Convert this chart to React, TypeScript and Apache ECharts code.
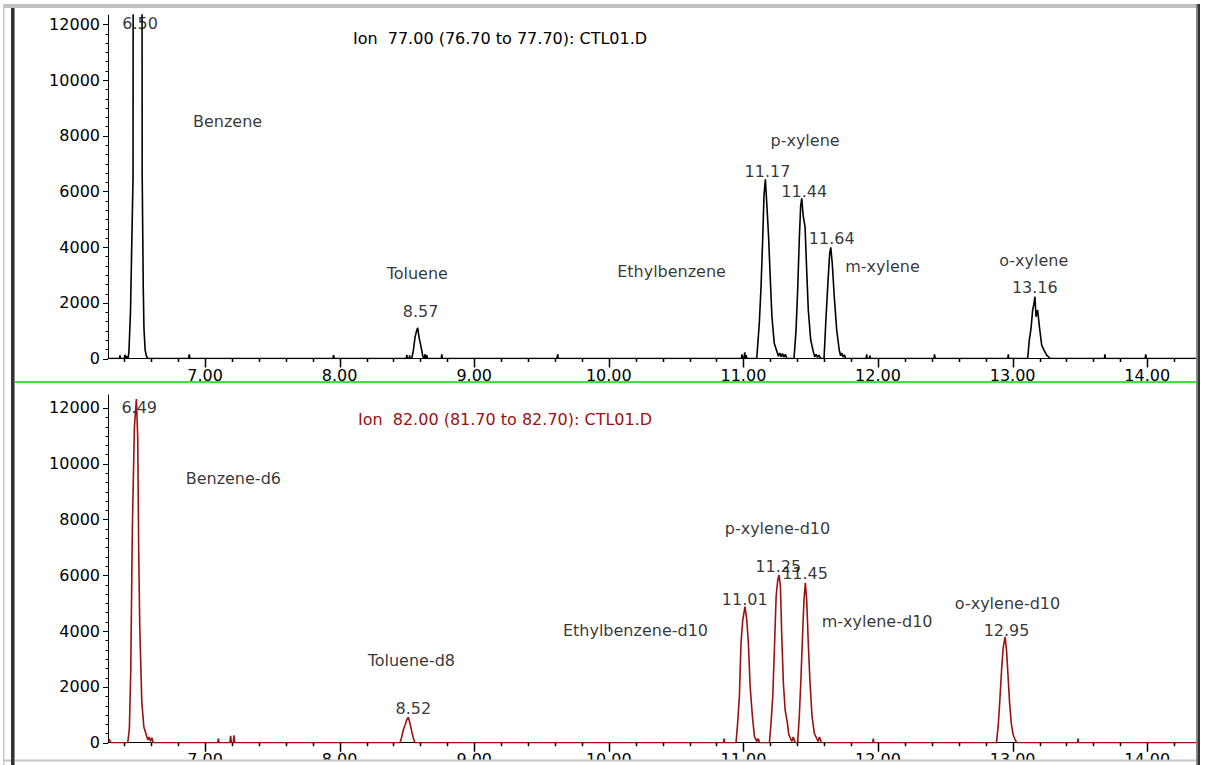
import React, { useEffect, useRef } from 'react';
import * as echarts from 'echarts';

const X_MIN = 6.279;
const X_MAX = 14.37;
const TOP_Y_MAX = 12334;
const BOTTOM_Y_MAX = 12462;
const X_MAJOR = [7, 8, 9, 10, 11, 12, 13, 14];
const X_MINOR = [6.4, 6.6, 6.8, 7.2, 7.4, 7.6, 7.8, 8.2, 8.4, 8.6, 8.8, 9.2, 9.4, 9.6, 9.8, 10.2, 10.4, 10.6, 10.8,
  11.2, 11.4, 11.6, 11.8, 12.2, 12.4, 12.6, 12.8, 13.2, 13.4, 13.6, 13.8, 14.2];
const Y_MAJOR = [0, 2000, 4000, 6000, 8000, 10000, 12000];
const Y_MINOR_STEP = 2000 / 6;

const TOP_TITLE = 'Ion  77.00 (76.70 to 77.70): CTL01.D';
const BOTTOM_TITLE = 'Ion  82.00 (81.70 to 82.70): CTL01.D';

const TOP_TRACE: [number, number][] = [
  [6.279, 0], [6.365, 0], [6.368, 110], [6.372, 0],
  [6.400, 0], [6.405, 130], [6.410, 0], [6.416, 90], [6.420, 0],
  [6.428, 0], [6.434, 200], [6.446, 1650], [6.465, 6500], [6.470, 40000], [6.528, 40000], [6.533, 6600],
  [6.541, 2550], [6.546, 1100], [6.555, 300], [6.565, 80], [6.575, 0],
  [6.878, 0], [6.883, 150], [6.888, 0],
  [7.950, 0], [7.955, 120], [7.960, 0],
  [8.495, 0], [8.499, 130], [8.503, 0], [8.516, 0], [8.520, 110], [8.524, 0],
  [8.536, 0], [8.548, 300], [8.560, 760], [8.573, 1020], [8.580, 1100], [8.590, 760], [8.605, 420], [8.617, 100],
  [8.625, 0], [8.635, 150], [8.640, 0], [8.647, 120], [8.652, 0],
  [8.755, 0], [8.759, 150], [8.763, 0],
  [9.615, 0], [9.620, 150], [9.625, 0],
  [10.985, 0], [10.990, 150], [10.995, 0], [11.005, 0], [11.010, 220], [11.015, 0], [11.020, 120], [11.025, 0],
  [11.099, 0], [11.118, 1264], [11.131, 2580], [11.143, 4255], [11.153, 5870], [11.163, 6434], [11.175, 5450],
  [11.187, 4373], [11.200, 2818], [11.212, 1500], [11.229, 545], [11.249, 250], [11.260, 80], [11.270, 200],
  [11.280, 60], [11.290, 180], [11.300, 50], [11.312, 150], [11.322, 0],
  [11.376, 0], [11.391, 1020], [11.403, 2460], [11.415, 4255], [11.425, 5450], [11.433, 5752], [11.445, 5090],
  [11.458, 4730], [11.470, 3180], [11.482, 1740], [11.500, 664], [11.520, 230], [11.530, 60], [11.540, 150],
  [11.550, 40], [11.560, 120], [11.575, 0],
  [11.599, 0], [11.614, 1500], [11.629, 2818], [11.641, 3777], [11.649, 3993], [11.660, 3418], [11.675, 2219],
  [11.693, 1023], [11.712, 305], [11.722, 100], [11.730, 200], [11.740, 50], [11.750, 130], [11.760, 0],
  [11.912, 0], [11.916, 150], [11.920, 0], [11.936, 0], [11.940, 100], [11.944, 0],
  [12.416, 0], [12.420, 150], [12.424, 0],
  [12.964, 0], [12.968, 150], [12.972, 0],
  [13.112, 0], [13.124, 664], [13.137, 1085], [13.149, 1742], [13.158, 1950], [13.166, 2219], [13.174, 1500],
  [13.186, 1742], [13.199, 1142], [13.216, 485], [13.233, 300], [13.253, 120], [13.280, 0],
  [13.682, 0], [13.686, 150], [13.690, 0],
  [13.985, 0], [13.989, 150], [13.993, 0],
  [14.370, 0],
];

const BOTTOM_TRACE: [number, number][] = [
  [6.279, 150], [6.290, 100], [6.300, 0],
  [6.426, 0], [6.438, 520], [6.448, 2550], [6.460, 7700], [6.475, 11300], [6.490, 12320], [6.500, 10900],
  [6.507, 6900], [6.515, 4150], [6.530, 1470], [6.545, 570], [6.560, 340], [6.575, 100], [6.585, 200],
  [6.595, 50], [6.605, 180], [6.615, 0],
  [7.095, 0], [7.099, 150], [7.103, 0],
  [7.185, 0], [7.190, 250], [7.195, 0], [7.210, 0], [7.215, 260], [7.220, 0],
  [8.449, 0], [8.461, 200], [8.473, 455], [8.486, 635], [8.498, 813], [8.510, 910], [8.523, 695], [8.536, 395],
  [8.548, 158], [8.560, 0],
  [10.852, 0], [10.856, 150], [10.860, 0],
  [10.945, 0], [10.957, 695], [10.970, 1650], [10.982, 3563], [10.995, 4398], [11.012, 4875], [11.025, 4398],
  [11.037, 3563], [11.050, 2007], [11.067, 932], [11.082, 215], [11.099, 50], [11.110, 150], [11.120, 0],
  [11.193, 0], [11.205, 695], [11.218, 1650], [11.230, 3323], [11.243, 5233], [11.255, 5830], [11.265, 6011],
  [11.275, 5591], [11.285, 3799], [11.297, 2129], [11.310, 1172], [11.327, 695], [11.337, 300], [11.350, 150],
  [11.360, 50], [11.370, 200], [11.385, 0],
  [11.403, 0], [11.415, 932], [11.428, 2366], [11.440, 3921], [11.450, 5115], [11.460, 5735], [11.470, 5115],
  [11.482, 3563], [11.495, 2129], [11.510, 932], [11.527, 337], [11.545, 150], [11.555, 50], [11.565, 200],
  [11.580, 0],
  [11.961, 0], [11.965, 150], [11.969, 0],
  [12.880, 0], [12.893, 600], [12.905, 1500], [12.918, 2600], [12.930, 3400], [12.944, 3790], [12.955, 3300],
  [12.966, 2400], [12.978, 1400], [12.990, 700], [13.003, 300], [13.015, 150], [13.030, 0],
  [13.482, 0], [13.486, 150], [13.490, 0],
  [14.370, 0],
];

const TOP_LABELS: [number, number, string][] = [
  [6.517, 12040, '6.50'],
  [7.167, 8503, 'Benzene'],
  [8.577, 3059, 'Toluene'],
  [8.601, 1681, '8.57'],
  [10.466, 3106, 'Ethylbenzene'],
  [11.458, 7821, 'p-xylene'],
  [11.179, 6708, '11.17'],
  [11.452, 6014, '11.44'],
  [11.656, 4291, '11.64'],
  [12.033, 3296, 'm-xylene'],
  [13.157, 3501, 'o-xylene'],
  [13.165, 2557, '13.16'],
];

const BOTTOM_LABELS: [number, number, string][] = [
  [6.511, 12022, '6.49'],
  [7.210, 9452, 'Benzene-d6'],
  [8.533, 2939, 'Toluene-d8'],
  [8.548, 1233, '8.52'],
  [10.198, 4004, 'Ethylbenzene-d10'],
  [11.253, 7685, 'p-xylene-d10'],
  [11.010, 5140, '11.01'],
  [11.259, 6308, '11.25'],
  [11.458, 6072, '11.45'],
  [11.993, 4337, 'm-xylene-d10'],
  [12.962, 5007, 'o-xylene-d10'],
  [12.955, 4004, '12.95'],
];

const FONT = "'DejaVu Sans', sans-serif";
const FS = 16;
const RED = '#9b1010';
const TICK_COLOR = '#000000';

function yMinorTicks(): number[] {
  const out: number[] = [];
  for (let i = 1; i < 37; i++) if (i % 6 !== 0) out.push(Math.round(i * Y_MINOR_STEP));
  return out;
}

function xAxisOf(grid: number) {
  return {
    type: 'value', gridIndex: grid, min: X_MIN, max: X_MAX, position: 'bottom',
    axisLine: { show: true, onZero: false, lineStyle: { color: '#000', width: 1 } },
    axisTick: { show: false },
    axisLabel: {
      show: true, customValues: X_MAJOR, formatter: (v: number) => v.toFixed(2), margin: 9,
      color: '#000', fontFamily: FONT, fontSize: FS,
    },
    splitLine: { show: false },
  };
}

function yAxisOf(grid: number, max: number) {
  return {
    type: 'value', gridIndex: grid, min: 0, max, position: 'left',
    axisLine: { show: true, onZero: false, lineStyle: { color: '#000', width: 1 } },
    axisTick: { show: false },
    axisLabel: {
      show: true, customValues: Y_MAJOR, formatter: (v: number) => String(v), margin: 8,
      color: '#000', fontFamily: FONT, fontSize: FS,
    },
    splitLine: { show: false },
  };
}

function labelSeries(xi: number, yi: number, items: [number, number, string][]) {
  return {
    type: 'scatter', xAxisIndex: xi, yAxisIndex: yi, symbolSize: 0, silent: true, z: 5,
    data: items.map(([t, v, s]) => ({ value: [t, v], name: s })),
    label: {
      show: true, position: 'inside', formatter: '{b}', color: '#000',
      fontFamily: FONT, fontSize: FS, align: 'center', verticalAlign: 'middle',
    },
    emphasis: { disabled: true },
  };
}

const FRAME: any[] = [
  { type: 'text', x: 500, y: 38, style: { text: TOP_TITLE, fill: '#000', font: `${FS}px ${FONT}`, align: 'center', verticalAlign: 'middle' }, z: 10 },
  { type: 'text', x: 505, y: 419, style: { text: BOTTOM_TITLE, fill: RED, font: `${FS}px ${FONT}`, align: 'center', verticalAlign: 'middle' }, z: 10 },
  { type: 'rect', shape: { x: 14, y: 381, width: 1183, height: 2 }, style: { fill: '#3ee23e' }, z: 10 },
  { type: 'rect', shape: { x: 0, y: 761, width: 1208, height: 4 }, style: { fill: '#ffffff' }, z: 20 },
  { type: 'rect', shape: { x: 3, y: 759.5, width: 1197, height: 2 }, style: { fill: '#c4c4c4' }, z: 21 },
  { type: 'rect', shape: { x: 3, y: 4, width: 1197, height: 4 }, style: { fill: '#c0c0c0' }, z: 21 },
  { type: 'rect', shape: { x: 3, y: 4, width: 1.5, height: 761 }, style: { fill: '#c8c8c8' }, z: 21 },
  { type: 'rect', shape: { x: 11, y: 8, width: 3, height: 757 }, style: { fill: '#333333' }, z: 21 },
  { type: 'rect', shape: { x: 14, y: 8, width: 1, height: 757 }, style: { fill: '#8a8a8a' }, z: 21 },
  { type: 'rect', shape: { x: 1196, y: 4, width: 1.5, height: 761 }, style: { fill: '#8a8a8a' }, z: 21 },
  { type: 'rect', shape: { x: 1197.5, y: 4, width: 2.5, height: 761 }, style: { fill: '#333333' }, z: 21 },
];

export default function App() {
  const ref = useRef<HTMLDivElement>(null);
  useEffect(() => {
    if (!ref.current) return;
    const chart = echarts.init(ref.current, undefined, { renderer: 'svg' });
    const option: any = {
      animation: false,
      backgroundColor: '#ffffff',
      grid: [
        { left: 108, right: 11, top: 15, height: 343.5, outerBoundsMode: 'none', containLabel: false },
        { left: 108, right: 11, top: 395, height: 347.7, outerBoundsMode: 'none', containLabel: false },
      ],
      xAxis: [xAxisOf(0), xAxisOf(1)],
      yAxis: [yAxisOf(0, TOP_Y_MAX), yAxisOf(1, BOTTOM_Y_MAX)],
      series: [
        {
          type: 'line', xAxisIndex: 0, yAxisIndex: 0, data: TOP_TRACE, showSymbol: false, clip: true,
          lineStyle: { color: '#000', width: 1.6 }, silent: true, z: 3,
        },
        {
          type: 'line', xAxisIndex: 1, yAxisIndex: 1, data: BOTTOM_TRACE, showSymbol: false, clip: true,
          lineStyle: { color: RED, width: 1.6 }, silent: true, z: 3,
        },
        labelSeries(0, 0, TOP_LABELS),
        labelSeries(1, 1, BOTTOM_LABELS),
      ],
      graphic: FRAME,
    };
    chart.setOption(option);

    // tick marks placed through the axes' own scales
    const ticks: any[] = [];
    const seg = (x1: number, y1: number, x2: number, y2: number, w: number) => ({
      type: 'line', shape: { x1, y1, x2, y2 }, style: { stroke: TICK_COLOR, lineWidth: w }, z: 15, silent: true,
    });
    [0, 1].forEach((g) => {
      const finder = { xAxisIndex: g, yAxisIndex: g };
      const xt = (v: number, len: number) => {
        const p = chart.convertToPixel(finder as any, [v, 0]) as number[];
        const x = Math.round(p[0]) + 0.5;
        ticks.push(seg(x, p[1], x, p[1] + len, 1.5));
      };
      const yt = (v: number, len: number) => {
        const p = chart.convertToPixel(finder as any, [X_MIN, v]) as number[];
        const y = Math.round(p[1]) + 0.5;
        ticks.push(seg(p[0], y, p[0] - len, y, 1));
      };
      X_MAJOR.forEach((v) => xt(v, 9));
      X_MINOR.forEach((v) => xt(v, 3.5));
      Y_MAJOR.forEach((v) => yt(v, 5));
      yMinorTicks().forEach((v) => yt(v, 2.5));
    });
    chart.setOption({ graphic: [...FRAME, ...ticks] });

    return () => chart.dispose();
  }, []);
  return (
    <div
      ref={ref}
      style={{ position: 'absolute', left: 0, top: 0, width: 1208, height: 765, background: '#fff' }}
    />
  );
}
